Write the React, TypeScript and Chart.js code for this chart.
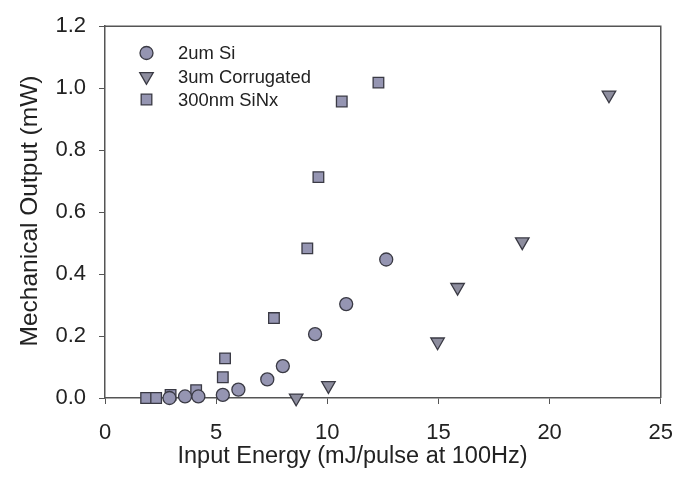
import React, { useEffect, useRef } from "react";
import { Chart, registerables } from "chart.js";
import { drawPoint } from "chart.js/helpers";

Chart.register(...registerables);

// 2um Si (circles)
const siX = [2.9, 3.6, 4.2, 5.3, 6.0, 7.3, 8.0, 9.45, 10.85, 12.65];
const siY = [0.0, 0.005, 0.005, 0.01, 0.027, 0.06, 0.103, 0.206, 0.303, 0.447];

// 3um Corrugated (down triangles)
const corrX = [8.6, 10.05, 14.96, 15.86, 18.77, 22.67];
const corrY = [0.0, 0.04, 0.181, 0.357, 0.504, 0.978];

// 300nm SiNx (squares)
const sinX = [1.85, 2.3, 2.95, 4.1, 5.3, 5.4, 7.6, 9.1, 9.6, 10.65, 12.3];
const sinY = [0.0, 0.0, 0.01, 0.025, 0.067, 0.128, 0.258, 0.483, 0.713, 0.957, 1.018];

const seriesNames = ["2um Si", "3um Corrugated", "300nm SiNx"];
const xTitle = "Input Energy (mJ/pulse at 100Hz)";
const yTitle = "Mechanical Output (mW)";

const FONT = "'Liberation Sans', Arial, Helvetica, sans-serif";

const toPts = (xs: number[], ys: number[]) => xs.map((x, i) => ({ x, y: ys[i] }));

export default function App() {
  const ref = useRef<HTMLCanvasElement | null>(null);

  useEffect(() => {
    document.body.style.margin = "0";
    const canvas = ref.current;
    if (!canvas) return;

    const framePlugin = {
      id: "frame",
      afterDraw(chart: any) {
        const { ctx, chartArea } = chart;
        ctx.save();
        ctx.strokeStyle = "#555";
        ctx.lineWidth = 1.5;
        ctx.beginPath();
        ctx.moveTo(chartArea.left, chartArea.top);
        ctx.lineTo(chartArea.right, chartArea.top);
        ctx.lineTo(chartArea.right, chartArea.bottom);
        ctx.stroke();
        ctx.restore();

        // axis titles
        ctx.save();
        ctx.fillStyle = "#222";
        ctx.textAlign = "center";
        ctx.textBaseline = "middle";
        ctx.font = `23.5px ${FONT}`;
        ctx.fillText(xTitle, 352.5, 457);
        ctx.translate(30.5, 211);
        ctx.rotate(-Math.PI / 2);
        ctx.font = `24.5px ${FONT}`;
        ctx.fillText(yTitle, 0, 0);
        ctx.restore();

        // legend inside the plot
        const lx = 146.5;
        const tx = 178;
        const rows = [53, 76.5, 99.5];
        ctx.save();
        chart.data.datasets.forEach((ds: any, i: number) => {
          ctx.fillStyle = ds.backgroundColor;
          ctx.strokeStyle = ds.borderColor;
          ctx.lineWidth = ds.borderWidth;
          drawPoint(
            ctx,
            { pointStyle: ds.pointStyle, rotation: ds.pointRotation || 0, radius: ds.pointRadius, borderWidth: ds.borderWidth },
            lx,
            rows[i]
          );
          ctx.fillStyle = "#222";
          ctx.font = `18.4px ${FONT}`;
          ctx.textBaseline = "middle";
          ctx.textAlign = "left";
          ctx.fillText(ds.label, tx, rows[i] + 1);
        });
        ctx.restore();
      },
    };

    const chart = new Chart(canvas, {
      type: "scatter",
      data: {
        datasets: [
          {
            label: seriesNames[0],
            data: toPts(siX, siY),
            pointStyle: "circle",
            pointRadius: 6.5,
            backgroundColor: "#9595b2",
            borderColor: "#3a3a44",
            borderWidth: 1.3,
            clip: false,
          } as any,
          {
            label: seriesNames[1],
            data: toPts(corrX, corrY),
            pointStyle: "triangle",
            pointRotation: 180,
            pointRadius: 7.8,
            backgroundColor: "#8d8d9e",
            borderColor: "#3a3a44",
            borderWidth: 1.3,
            clip: false,
          } as any,
          {
            label: seriesNames[2],
            data: toPts(sinX, sinY),
            pointStyle: "rect",
            pointRadius: 7.5,
            backgroundColor: "#9595b2",
            borderColor: "#3a3a44",
            borderWidth: 1.3,
            clip: false,
          } as any,
        ],
      },
      options: {
        animation: false,
        responsive: false,
        layout: { padding: { top: 16, right: 27, left: 0, bottom: 0 } },
        plugins: {
          legend: { display: false },
          tooltip: { enabled: false },
        },
        scales: {
          x: {
            type: "linear",
            min: 0,
            max: 25,
            afterFit: (s: any) => {
              s.height = 79;
            },
            ticks: {
              stepSize: 5,
              padding: 16,
              color: "#222",
              font: { family: FONT, size: 22 },
            },
            grid: {
              display: true,
              drawOnChartArea: false,
              drawTicks: true,
              tickLength: 6,
              color: "#555",
            },
            border: { display: true, color: "#555", width: 1.5 },
            title: { display: false, text: xTitle },
          },
          y: {
            type: "linear",
            min: 0,
            max: 1.2,
            afterFit: (s: any) => {
              s.width = 105;
            },
            ticks: {
              stepSize: 0.2,
              padding: 13,
              color: "#222",
              font: { family: FONT, size: 22 },
              callback: (v: any) => Number(v).toFixed(1),
            },
            grid: {
              display: true,
              drawOnChartArea: false,
              drawTicks: true,
              tickLength: 6,
              color: "#555",
            },
            border: { display: true, color: "#555", width: 1.5 },
            title: { display: false, text: yTitle },
          },
        },
      },
      plugins: [framePlugin],
    });

    return () => chart.destroy();
  }, []);

  return <canvas ref={ref} width={689} height={477} style={{ display: "block" }} />;
}
